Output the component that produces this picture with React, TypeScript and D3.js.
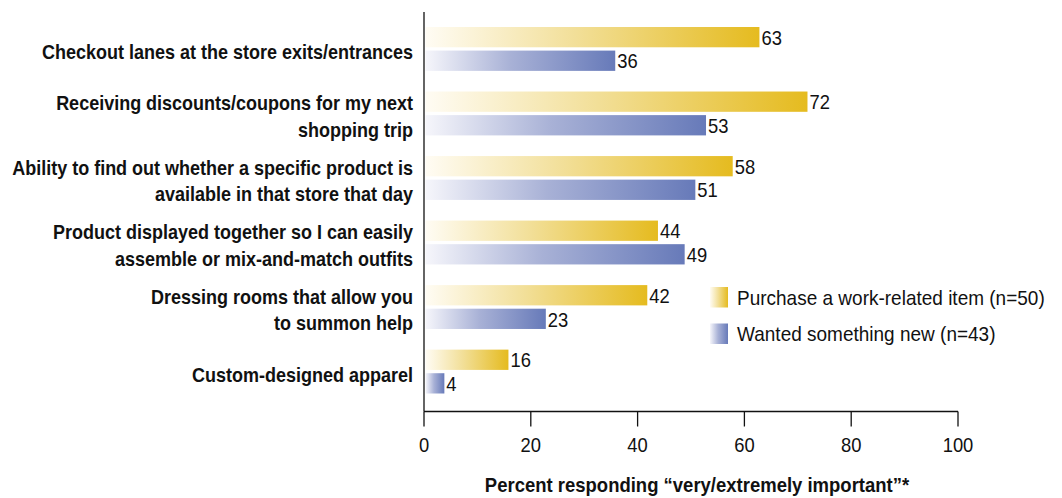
import React from "react";
import * as d3 from "d3";

const categories: string[][] = [
  ["Checkout lanes at the store exits/entrances"],
  ["Receiving discounts/coupons for my next", "shopping trip"],
  ["Ability to find out whether a specific product is", "available in that store that day"],
  ["Product displayed together so I can easily", "assemble or mix-and-match outfits"],
  ["Dressing rooms that allow you", "to summon help"],
  ["Custom-designed apparel"],
];
const workRelated: number[] = [63, 72, 58, 44, 42, 16];
const somethingNew: number[] = [36, 53, 51, 49, 23, 4];
const seriesNames: string[] = ["Purchase a work-related item (n=50)", "Wanted something new (n=43)"];
const xTicks: number[] = [0, 20, 40, 60, 80, 100];
const xTitle = "Percent responding \u201cvery/extremely important\u201d*";

const FONT = "'Liberation Sans', Arimo, Arial, sans-serif";
const SX_BOLD = 0.9;
const SX_REG = 0.92;

function T(props: {
  x: number;
  y: number;
  sx: number;
  anchor?: "start" | "middle" | "end";
  bold?: boolean;
  size?: number;
  children: React.ReactNode;
}) {
  const { x, y, sx, anchor = "start", bold = false, size = 20, children } = props;
  return (
    <text
      transform={`translate(${x},${y}) scale(${sx},1)`}
      dy="0.36em"
      textAnchor={anchor}
      fontSize={size}
      fontWeight={bold ? "bold" : "normal"}
      fill="#111"
    >
      {children}
    </text>
  );
}

export default function App() {
  const W = 1062;
  const H = 498;
  const x = d3.scaleLinear().domain([0, 100]).range([424, 958]);
  const y = d3
    .scaleBand<number>()
    .domain(d3.range(categories.length))
    .range([27, 393.5])
    .paddingInner(0.32)
    .paddingOuter(0);
  const sub = d3.scaleBand<number>().domain([0, 1]).range([0, y.bandwidth()]).paddingInner(0.14);
  const series = [workRelated, somethingNew];
  const grads = ["gradY", "gradB"];
  const axisY = 411.5;

  return (
    <svg
      width={W}
      height={H}
      style={{ position: "absolute", left: 0, top: 0, background: "#fff" }}
      fontFamily={FONT}
    >
      <defs>
        <linearGradient id="gradY" x1="0" x2="1" y1="0" y2="0">
          <stop offset="0%" stopColor="#fffcf4" />
          <stop offset="45%" stopColor="#f2df98" />
          <stop offset="100%" stopColor="#e5bb1f" />
        </linearGradient>
        <linearGradient id="gradB" x1="0" x2="1" y1="0" y2="0">
          <stop offset="0%" stopColor="#f6f6fb" />
          <stop offset="45%" stopColor="#a8b1d6" />
          <stop offset="100%" stopColor="#677ab9" />
        </linearGradient>
      </defs>

      {/* bars */}
      {categories.map((cat, i) => (
        <g key={i} transform={`translate(0,${y(i)})`}>
          {series.map((vals, s) => (
            <g key={s}>
              <rect
                x={x(0) + 1.5}
                y={sub(s)}
                width={Math.max(0, x(vals[i]) - x(0) - 2.5)}
                height={sub.bandwidth()}
                fill={`url(#${grads[s]})`}
              />
              <T x={x(vals[i]) + 1} y={(sub(s) as number) + sub.bandwidth() / 2 + 0.5} sx={SX_REG}>
                {vals[i]}
              </T>
            </g>
          ))}
          {/* category label */}
          {cat.map((line, li) => (
            <T
              key={li}
              x={413}
              y={y.bandwidth() / 2 + 3 + (li - (cat.length - 1) / 2) * 26.5}
              sx={SX_BOLD}
              anchor="end"
              bold
            >
              {line}
            </T>
          ))}
        </g>
      ))}

      {/* y axis line */}
      <line x1={x(0)} x2={x(0)} y1={12} y2={axisY} stroke="#111" strokeWidth={1.3} />
      {/* x axis */}
      <line x1={x(0)} x2={x(100)} y1={axisY} y2={axisY} stroke="#111" strokeWidth={1.3} />
      {xTicks.map((t) => (
        <g key={t}>
          <line x1={x(t)} x2={x(t)} y1={axisY} y2={axisY + 15} stroke="#111" strokeWidth={1.3} />
          <T x={x(t)} y={445} sx={SX_REG} anchor="middle">
            {t}
          </T>
        </g>
      ))}
      <T x={(x(0) + x(100)) / 2 + 6} y={485} sx={0.925} anchor="middle" bold>
        {xTitle}
      </T>

      {/* legend */}
      {seriesNames.map((name, s) => (
        <g key={s} transform={`translate(710,${287 + s * 36.5})`}>
          <rect x={0} y={0} width={18} height={20.5} fill={`url(#${grads[s]})`} />
          <T x={27} y={10.5} sx={0.95}>
            {name}
          </T>
        </g>
      ))}
    </svg>
  );
}
